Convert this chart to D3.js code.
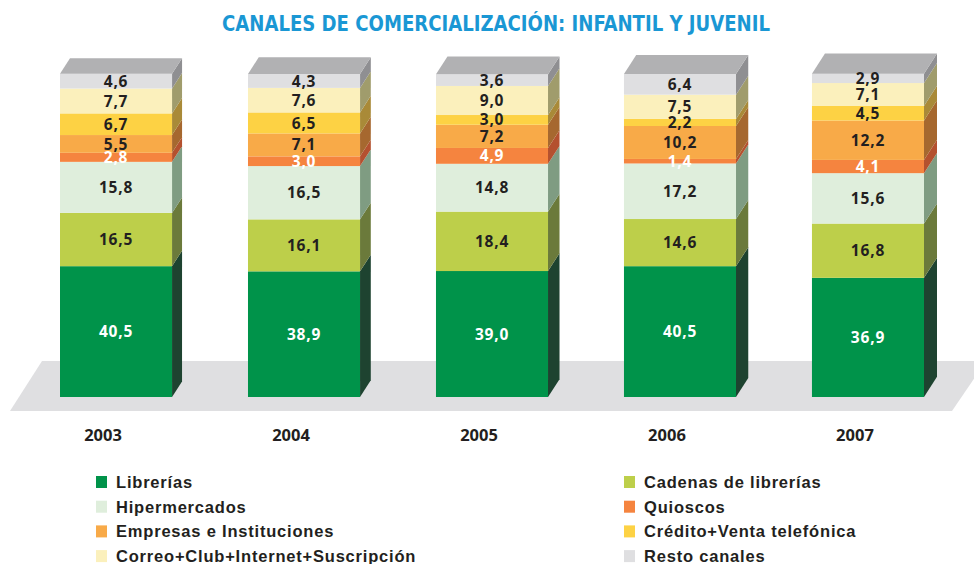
<!DOCTYPE html>
<html>
<head>
<meta charset="utf-8">
<script src="https://cdn.jsdelivr.net/npm/d3@7"></script>
<style>
  html, body { margin: 0; padding: 0; background: #fff; }
  svg { display: block; }
</style>
</head>
<body>
<svg id="chart" width="974" height="564"></svg>
<script>
// Sales channels for children's & youth books, share (%) per year
const years = ["2003", "2004", "2005", "2006", "2007"];
const channels = [
  "Librerías", "Cadenas de librerías", "Hipermercados", "Quioscos",
  "Empresas e Instituciones", "Crédito+Venta telefónica",
  "Correo+Club+Internet+Suscripción", "Resto canales"
];
const librerias   = [40.5, 38.9, 39.0, 40.5, 36.9];
const cadenas     = [16.5, 16.1, 18.4, 14.6, 16.8];
const hiper       = [15.8, 16.5, 14.8, 17.2, 15.6];
const quioscos    = [2.8, 3.0, 4.9, 1.4, 4.1];
const empresas    = [5.5, 7.1, 7.2, 10.2, 12.2];
const credito     = [6.7, 6.5, 3.0, 2.2, 4.5];
const correo      = [7.7, 7.6, 9.0, 7.5, 7.1];
const resto       = [4.6, 4.3, 3.6, 6.4, 2.9];

const seriesValues = [librerias, cadenas, hiper, quioscos, empresas, credito, correo, resto];

// front, side and label colours per channel
const frontColors = ["#00934a", "#bdcf4a", "#dfeedc", "#f5843f", "#f8aa48", "#fdd244", "#fbf0bc", "#dfdfe1"];
const sideColors  = ["#1e4330", "#6b7a3b", "#7f9c82", "#b4512f", "#a6682f", "#a98a38", "#a09c6c", "#8f8f92"];
const labelColors = ["#ffffff", "#231f20", "#231f20", "#ffffff", "#231f20", "#231f20", "#231f20", "#231f20"];
const topColor = "#b1b1b3";

const svg = d3.select("#chart");

// Title
svg.append("text")
  .attr("x", 496).attr("y", 31)
  .attr("text-anchor", "middle")
  .attr("font-family", "'Liberation Sans Narrow', 'DejaVu Sans Condensed', sans-serif")
  .attr("font-weight", "bold")
  .attr("font-size", 22)
  .attr("fill", "#1a97d4")
  .attr("textLength", 548)
  .attr("lengthAdjust", "spacingAndGlyphs")
  .text("CANALES DE COMERCIALIZACIÓN: INFANTIL Y JUVENIL");

// Floor slab
svg.append("path")
  .attr("d", "M42,361 L986,361 L952,411 L10,411 Z")
  .attr("fill", "#dfdfe1");

// Scales
const x = d3.scaleBand().domain(years).range([60, 924]).paddingInner(0.404).paddingOuter(0);
const y = d3.scaleLinear().domain([0, 100]).range([397, 74]);

// Build stacked data
const table = years.map((yr, i) => {
  const row = { year: yr };
  channels.forEach((c, k) => { row[c] = seriesValues[k][i]; });
  return row;
});
const stack = d3.stack().keys(channels)(table);

const fmt = v => v.toFixed(1).replace(".", ",");
const minGap = 13; // minimum vertical distance between stacked value labels

const barW = x.bandwidth();
years.forEach((yr, i) => {
  const x0 = x(yr);
  const x1 = x0 + barW;
  const dx = 10 + 0.75 * i;
  const dy = dx * 1.55;
  const g = svg.append("g");

  stack.forEach((layer, k) => {
    const d = layer[i];
    const yb = y(d[0]), yt = y(d[1]);
    // side face
    g.append("path")
      .attr("d", `M${x1},${yb} L${x1 + dx},${yb - dy} L${x1 + dx},${yt - dy} L${x1},${yt} Z`)
      .attr("fill", sideColors[k]);
    // front face
    g.append("rect")
      .attr("x", x0).attr("y", yt)
      .attr("width", barW).attr("height", yb - yt)
      .attr("fill", frontColors[k]);
  });

  // top face
  const top = y(stack[stack.length - 1][i][1]);
  g.append("path")
    .attr("d", `M${x0},${top} L${x0 + dx},${top - dy} L${x1 + dx},${top - dy} L${x1},${top} Z`)
    .attr("fill", topColor);

  // value labels: centred in the segment, then spread from the top down so they don't collide
  const ys = stack.map(layer => (y(layer[i][0]) + y(layer[i][1])) / 2);
  for (let k = ys.length - 2; k >= 0; k--) {
    if (ys[k] - ys[k + 1] < minGap) ys[k] = ys[k + 1] + minGap;
  }
  stack.forEach((layer, k) => {
    g.append("text")
      .attr("x", x0 + barW / 2).attr("y", ys[k])
      .attr("dy", "0.36em")
      .attr("text-anchor", "middle")
      .attr("font-family", "'Open Sans', sans-serif")
      .attr("font-weight", "bold")
      .attr("font-size", 15.5)
      .attr("letter-spacing", 0.8)
      .attr("fill", labelColors[k])
      .text(fmt(seriesValues[k][i]));
  });

  // year label
  svg.append("text")
    .attr("x", x0 + barW / 2 - 13).attr("y", 441)
    .attr("text-anchor", "middle")
    .attr("font-family", "'Open Sans', sans-serif")
    .attr("font-weight", "bold")
    .attr("font-size", 16.5)
    .attr("fill", "#231f20")
    .text(yr);
});

// Legend: two columns, four rows
const legend = svg.append("g");
channels.forEach((c, k) => {
  const col = k % 2, row = Math.floor(k / 2);
  const lx = col === 0 ? 96 : 624;
  const ly = 482 + row * 24.7;
  legend.append("rect")
    .attr("x", lx).attr("y", ly - 6)
    .attr("width", 11).attr("height", 12)
    .attr("fill", frontColors[k]);
  legend.append("text")
    .attr("x", lx + 20).attr("y", ly)
    .attr("dy", "0.36em")
    .attr("font-family", "'Liberation Sans', Arial, sans-serif")
    .attr("font-weight", "bold")
    .attr("font-size", 16.5)
    .attr("letter-spacing", 0.8)
    .attr("fill", "#231f20")
    .text(c);
});
</script>
</body>
</html>
